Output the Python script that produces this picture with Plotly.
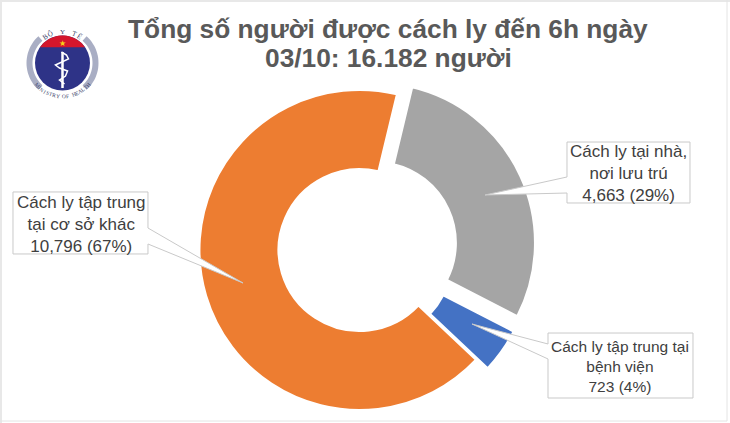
import math
import plotly.graph_objects as go

W, H = 730, 427

labels = ['Cách ly tại nhà, nơi lưu trú', 'Cách ly tập trung tại bệnh viện', 'Cách ly tập trung tại cơ sở khác']
values = [4663, 723, 10796]
colors = ['#A5A5A5', '#4472C4', '#ED7D31']
title_lines = ['Tổng số người được cách ly đến 6h ngày', '03/10: 16.182 người']
callout_texts = [
    'Cách ly tại nhà,<br>nơi lưu trú<br>4,663 (29%)',
    'Cách ly tập trung tại<br>bệnh viện<br>723 (4%)',
    'Cách ly tập trung<br>tại cơ sở khác<br>10,796 (67%)',
]
callout_sizes = [17, 15.5, 17]


def px(x):
    return x / W


def py(y):
    return 1 - y / H


def path(points, close=True):
    d = 'M ' + ' L '.join(f'{px(x):.4f},{py(y):.4f}' for x, y in points)
    return d + ' Z' if close else d


def circle(cx, cy, r, fill):
    return dict(type='circle', xref='paper', yref='paper', x0=px(cx - r), x1=px(cx + r),
                y0=py(cy + r), y1=py(cy - r), fillcolor=fill, line=dict(width=0))


def arc(cx, cy, r, a0, a1, n=24):
    return [(cx + r * math.cos(math.radians(a0 + (a1 - a0) * i / n)),
             cy - r * math.sin(math.radians(a0 + (a1 - a0) * i / n))) for i in range(n + 1)]


fig = go.Figure()
fig.add_trace(go.Pie(
    labels=labels, values=values, hole=0.506, sort=False, direction='clockwise', rotation=13.5,
    pull=[0.106, 0.09, 0.0], textinfo='none', hoverinfo='label+value+percent', showlegend=False,
    marker=dict(colors=colors, line=dict(color='white', width=2)),
    domain=dict(x=[px(182.5), px(536.5)], y=[py(427), py(73)]),
))

shapes = []
annotations = []

# callouts: box and wedge as one outline
boxes = [
    ([(567, 142), (690, 142), (690, 203), (567, 203), (567, 193), (485, 195), (567, 177)], (628, 173)),
    ([(548, 333), (693, 333), (693, 398), (548, 398), (548, 359), (472, 324), (548, 344)], (620, 366)),
    ([(13, 192), (148, 192), (148, 228), (243, 283), (148, 244), (148, 254), (13, 254)], (81, 224)),
]
for (outline, centre), text, size in zip(boxes, callout_texts, callout_sizes):
    shapes.append(dict(type='path', xref='paper', yref='paper', path=path(outline),
                       fillcolor='white', line=dict(color='#C9C9C9', width=1)))
    annotations.append(dict(text=text, x=px(centre[0]), y=py(centre[1]), xref='paper', yref='paper',
                            xanchor='center', yanchor='middle', showarrow=False, align='center',
                            font=dict(family='Liberation Sans', size=size, color='#404040')))

# title
for line, y in zip(title_lines, [29, 58]):
    annotations.append(dict(text=f'<b>{line}</b>', x=px(388), y=py(y), xref='paper', yref='paper',
                            xanchor='center', yanchor='middle', showarrow=False,
                            font=dict(family='Liberation Sans', size=26.3, color='#595959')))

# ministry logo
cx, cy = 62.5, 63
for a0, a1 in [(132, 228), (-48, 48)]:
    shapes.append(dict(type='path', xref='paper', yref='paper', line=dict(width=0), fillcolor='#A9AEC4',
                       path=path(arc(cx, cy, 36, a0, a1) + arc(cx, cy, 30, a1, a0))))
shapes.append(circle(cx, cy, 27.5, '#2E3387'))
shapes.append(dict(type='path', xref='paper', yref='paper', fillcolor='#D4162C', line=dict(width=0),
                   path=path(arc(cx, cy, 27.5, 145, 35))))
shapes.append(dict(type='line', xref='paper', yref='paper', x0=px(cx), x1=px(cx), y0=py(cy + 25), y1=py(cy - 11),
                   line=dict(color='white', width=2.5)))
snake = [(cx - 1, cy - 11), (cx + 4, cy - 8), (cx + 6, cy - 4), (cx - 7, cy + 2), (cx - 3, cy + 5),
         (cx + 5, cy + 8), (cx + 3, cy + 13), (cx - 3, cy + 17), (cx + 2, cy + 21)]
shapes.append(dict(type='path', xref='paper', yref='paper', line=dict(color='white', width=1.5),
                   path=path(snake, close=False)))
annotations.append(dict(text='★', x=px(cx), y=py(cy - 21), xref='paper', yref='paper', showarrow=False,
                        xanchor='center', yanchor='middle', font=dict(size=8, color='#F7D117')))
for text, a0, step, r in [('BỘ Y TẾ', 123, -11, 31), ('MINISTRY OF HEALTH', 221, 5.8, 33.5)]:
    for i, ch in enumerate(text):
        a = a0 + step * i
        tilt = 90 - a if step < 0 else 270 - a
        annotations.append(dict(text=ch, x=px(cx + r * math.cos(math.radians(a))),
                                y=py(cy - r * math.sin(math.radians(a))), xref='paper', yref='paper',
                                xanchor='center', yanchor='middle', showarrow=False, textangle=tilt,
                                font=dict(family='Liberation Serif', size=7 if step < 0 else 5.5, color='#3A3F6B')))

# pale frame around the picture
shapes.append(dict(type='rect', xref='paper', yref='paper', x0=0, x1=1, y0=py(2), y1=1,
                   fillcolor='#E8E8E8', line=dict(width=0)))
shapes.append(dict(type='rect', xref='paper', yref='paper', x0=0, x1=px(2), y0=0, y1=1,
                   fillcolor='#E8E8E8', line=dict(width=0)))
shapes.append(dict(type='line', xref='paper', yref='paper', x0=px(727), x1=px(727), y0=py(421), y1=1,
                   line=dict(color='#E4E4E4', width=1)))
shapes.append(dict(type='line', xref='paper', yref='paper', x0=0, x1=px(727), y0=py(421), y1=py(421),
                   line=dict(color='#E4E4E4', width=1)))

fig.update_layout(
    width=W, height=H, margin=dict(l=0, r=0, t=0, b=0),
    paper_bgcolor='white', plot_bgcolor='white',
    shapes=shapes, annotations=annotations,
)

# no page margin, and the few extra pixels under the window stay hidden
fig.write_html("out.html", config=dict(displayModeBar=False),
               post_script="document.body.style.margin='0';document.documentElement.style.overflow='hidden';document.body.style.overflow='hidden';")
